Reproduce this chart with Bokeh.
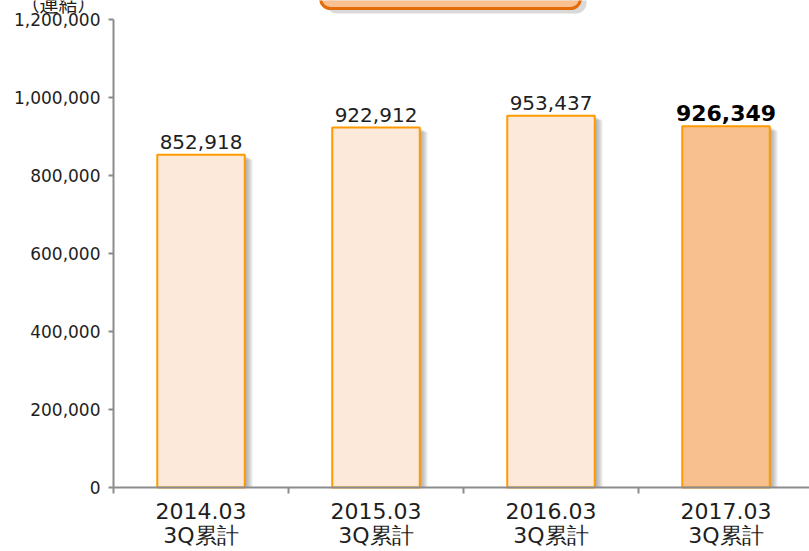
from bokeh.plotting import figure
from bokeh.models import ColumnDataSource, Range1d, FixedTicker, NumeralTickFormatter, BoxAnnotation
from bokeh.transform import dodge
from bokeh.core.properties import value
from bokeh.embed import file_html
from bokeh.resources import INLINE

# ---- data ----
periods = ["2014.03\n3Q累計", "2015.03\n3Q累計", "2016.03\n3Q累計", "2017.03\n3Q累計"]
sales = [852918, 922912, 953437, 926349]
y_ticks = [0, 200000, 400000, 600000, 800000, 1000000, 1200000]
unit_label = "（連結）"

# ---- layout ----
FONT = "DejaVu Sans"
CJK = "Noto Sans CJK JP"
W, H = 809, 551
LEFT, BOTTOM = 113, 64            # pixel column of the y axis, height below the x axis
AXIS_TOP = 19                     # pixel row of the top tick
cat_px = 175
px_x = 1 / cat_px
x_start = -LEFT * px_x
x_end = (W - LEFT) * px_x
y_max = y_ticks[-1]
px_y = y_max / (H - BOTTOM - AXIS_TOP)
y_start = -BOTTOM * px_y
y_end = y_max + AXIS_TOP * px_y

AX = "#8C8C8C"
EDGE = "#FF9A00"
LIGHT = "#FDE9D9"
DARK = "#F9C08F"
TXT = "#1E1E1E"

n = len(sales)
xs = [i + 0.5 for i in range(n)]
labs = [f"{v:,}" for v in sales]
src_all = ColumnDataSource(dict(x=xs, v=sales, lab=labs))
src_norm = ColumnDataSource(dict(x=xs[:-1], v=sales[:-1], lab=labs[:-1]))
src_hi = ColumnDataSource(dict(x=xs[-1:], v=sales[-1:], lab=labs[-1:]))

p = figure(width=W, height=H, output_backend="svg", toolbar_location=None,
           x_range=Range1d(x_start, x_end), y_range=Range1d(y_start, y_end),
           min_border=0)
p.outline_line_color = None
p.xgrid.visible = False
p.ygrid.visible = False
p.background_fill_color = "white"
p.border_fill_color = "white"

# title box (cut off at the top of the picture) with its shadow
tb_left = (320 - LEFT) * px_x
tb_right = (580 - LEFT) * px_x
p.add_layout(BoxAnnotation(left=tb_left + 6 * px_x, right=tb_right + 6 * px_x,
                           bottom=y_end - 13 * px_y, top=y_end + 40 * px_y,
                           fill_color="#000000", fill_alpha=0.15, line_color=None,
                           border_radius=10))
p.add_layout(BoxAnnotation(left=tb_left, right=tb_right,
                           bottom=y_end - 8 * px_y, top=y_end + 40 * px_y,
                           fill_color="#FAC090", fill_alpha=1, line_color="#E46C0A",
                           line_alpha=1, line_width=3, border_radius=10))

# unit label, cut off at the top edge as in the original
p.text(x=[(58 - LEFT) * px_x], y=[y_end - 3 * px_y], text=[unit_label],
       text_align="center", text_baseline="alphabetic", text_font=value(CJK),
       text_font_size="19px", text_color=TXT)

# drop shadows of the bars (stop at the x axis)
for k in range(1, 9):
    p.vbar(x=dodge("x", k * px_x, range=p.x_range), width=0.5,
           top=dodge("v", -k * px_y * 0.6, range=p.y_range), bottom=0,
           source=src_all, fill_color="#444444", fill_alpha=0.07, line_color=None)

p.vbar(x="x", width=0.5, top="v", bottom=0, source=src_norm,
       fill_color=LIGHT, line_color=EDGE, line_width=2)
p.vbar(x="x", width=0.5, top="v", bottom=0, source=src_hi,
       fill_color=DARK, line_color=EDGE, line_width=2)

p.text(x="x", y="v", text="lab", source=src_norm, text_align="center",
       text_baseline="bottom", y_offset=-6, text_font=value(FONT),
       text_font_size="20px", text_color=TXT)
p.text(x="x", y="v", text="lab", source=src_hi, text_align="center",
       text_baseline="bottom", y_offset=-5, text_font=value(FONT),
       text_font_size="22px", text_font_style="bold", text_color="#000000")

# x axis, drawn at y = 0 inside the frame
p.xaxis.fixed_location = 0
p.xaxis.ticker = FixedTicker(ticks=xs, minor_ticks=list(range(n + 1)))
p.xaxis.major_label_overrides = {x: lab for x, lab in zip(xs, periods)}
p.xaxis.bounds = (0, x_end)
p.xaxis.major_tick_line_color = None
p.xaxis.minor_tick_line_color = AX
p.xaxis.minor_tick_line_width = 2
p.xaxis.minor_tick_out = 6
p.xaxis.minor_tick_in = 0
p.xaxis.axis_line_color = AX
p.xaxis.axis_line_width = 2
p.xaxis.major_label_standoff = 5
p.xaxis.major_label_text_font = FONT
p.xaxis.major_label_text_font_size = "22px"
p.xaxis.major_label_text_line_height = 0.98
p.xaxis.major_label_text_color = TXT

# y axis, drawn at x = 0 inside the frame
p.yaxis.fixed_location = 0
p.yaxis.ticker = FixedTicker(ticks=y_ticks, minor_ticks=[])
p.yaxis.formatter = NumeralTickFormatter(format="0,0")
p.yaxis.bounds = (0, y_max)
p.yaxis.major_tick_out = 5
p.yaxis.major_tick_in = 0
p.yaxis.minor_tick_line_color = None
p.yaxis.major_tick_line_color = AX
p.yaxis.major_tick_line_width = 2
p.yaxis.axis_line_color = AX
p.yaxis.axis_line_width = 2
p.yaxis.major_label_standoff = 8
p.yaxis.major_label_text_font = FONT
p.yaxis.major_label_text_font_size = "17px"
p.yaxis.major_label_text_color = TXT

open("out.html", "w").write(file_html(p, INLINE))
